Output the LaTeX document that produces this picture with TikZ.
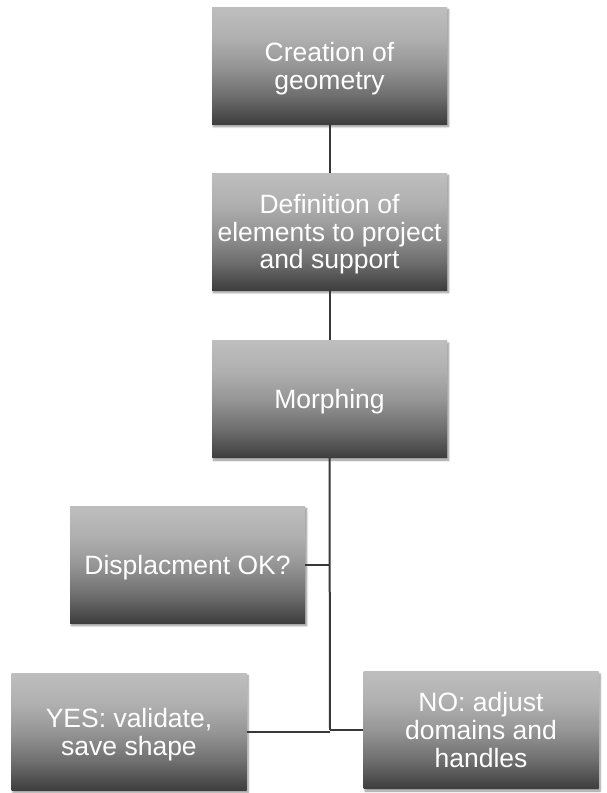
\documentclass[tikz,border=0pt]{standalone}
\usepackage{fontspec}
\setmainfont{Liberation Sans}
\usetikzlibrary{shadows.blur}
\definecolor{gA}{HTML}{BEBEBE}
\definecolor{gB}{HTML}{B0B0B0}
\definecolor{gC}{HTML}{969696}
\definecolor{gD}{HTML}{6E6E6E}
\definecolor{gE}{HTML}{3E3E3E}
\definecolor{linec}{HTML}{383838}
\pgfdeclareverticalshading{boxshade}{100bp}{color(0bp)=(gE); color(25bp)=(gE); color(37bp)=(gD); color(50bp)=(gC); color(62bp)=(gB); color(75bp)=(gA); color(100bp)=(gA)}
\tikzset{
  flowbox/.style={shading=boxshade, minimum width=235pt, minimum height=117pt, inner sep=0pt,
    text=white, align=center, font=\fontsize{26.5}{27.8}\selectfont, text depth=0pt,
    blur shadow={shadow xshift=1.5pt, shadow yshift=-2.5pt, shadow blur radius=2pt, shadow blur steps=6, shadow opacity=45}},
  conn/.style={draw=linec, line width=2pt}
}
\begin{document}
\begin{tikzpicture}[x=1pt,y=-1pt]
\useasboundingbox (0,0) rectangle (606,793);
\node[flowbox] (b1) at (329.5,65.5) {Creation of\\geometry};
\node[flowbox] (b2) at (329.5,231.5) {Definition of\\elements to project\\and support};
\node[flowbox] (b3) at (329.5,399) {Morphing};
\node[flowbox] (b4) at (187.5,564.5) {Displacment OK?};
\node[flowbox] (b5) at (129,731.5) {YES: validate,\\save shape};
\node[flowbox] (b6) at (481,730) {NO: adjust\\domains and\\handles};
\coordinate (j) at (330,730);
\draw[conn] (b1.south) -- (b2.north);
\draw[conn] (b2.south) -- (b3.north);
\draw[conn] (b3.south) -- (j);
\draw[conn] (b4.east) -- (b4.east -| j);
\draw[conn] (b5.east) -- (b5.east -| j);
\draw[conn] (b6.west) -- (b6.west -| j);
\end{tikzpicture}
\end{document}
